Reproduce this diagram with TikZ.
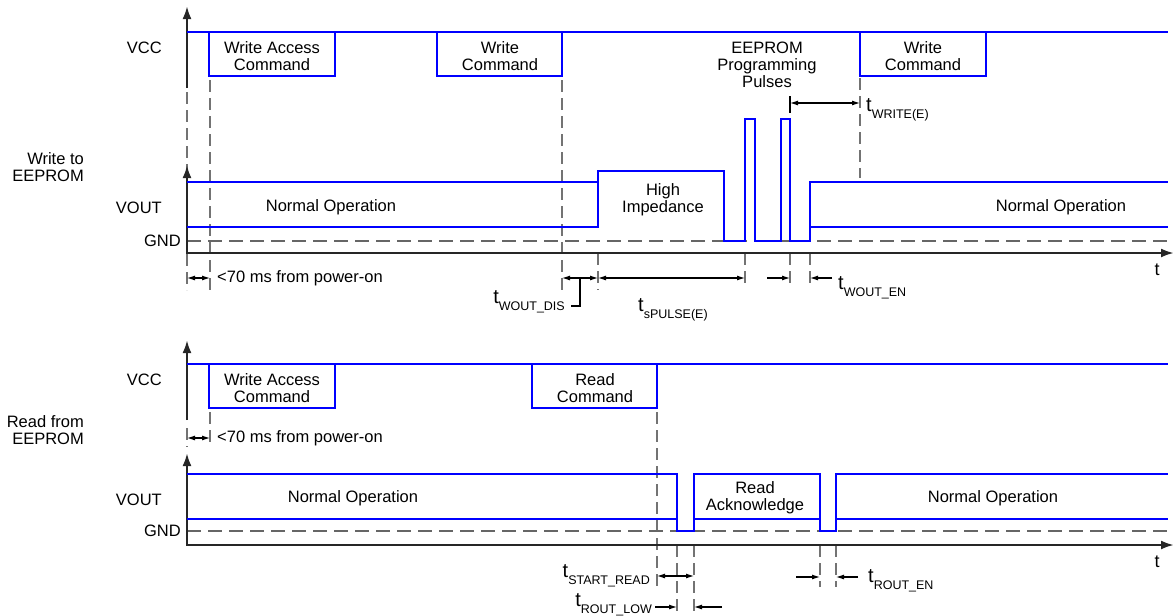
\documentclass[tikz,border=0pt]{standalone}
\usepackage{fontspec}
\setmainfont{Liberation Sans}
\usetikzlibrary{arrows.meta}
\newcommand{\tlab}[1]{{\fontsize{20}{22}\selectfont t}\raisebox{-7pt}{\fontsize{12.5}{14}\selectfont #1}}

\begin{document}
\begin{tikzpicture}[x=1pt,y=-1pt,
    txt/.style={font=\fontsize{16.5}{17}\selectfont, inner sep=0pt, align=center},
    wave/.style={blue, line width=2.6pt},
    axis/.style={black!85, line width=2.4pt},
    uptip/.style={-{Latex[length=13pt,width=9pt]}},
    bothtip/.style={{Latex[length=13pt,width=9pt]}-{Latex[length=13pt,width=9pt]}},
    guide/.style={black!55, line width=1.2pt, dash pattern=on 12pt off 6pt},
    gnd/.style={black!60, line width=1.2pt, dash pattern=on 14pt off 7pt},
    dim/.style={line width=1.1pt, {Latex[length=8pt,width=5pt]}-{Latex[length=8pt,width=5pt]}},
    arr/.style={line width=1.1pt, -{Latex[length=8pt,width=5pt]}}]
    \useasboundingbox (0,0) rectangle (1176,616);

    % write to EEPROM
    \node[txt, align=right, anchor=east] (wrlbl) at (84,167) {Write to\\EEPROM};
    \node[txt, anchor=east] (vcc1) at (162,48) {VCC};
    \node[txt, anchor=east] (vout1) at (162,208) {VOUT};
    \node[txt, anchor=east] (gnd1) at (181,241) {GND};

    \draw[guide] (187,92) -- (187,290);
    \draw[guide] (210,80) -- (210,290);
    \draw[guide] (562,80) -- (562,290);
    \draw[guide] (860,78) -- (860,178);
    \draw[guide] (598,253) -- (598,290);
    \draw[guide] (745,253) -- (745,288);
    \draw[guide] (790,253) -- (790,288);
    \draw[guide] (810,253) -- (810,288);
    \draw[gnd] (187,241) -- (1168,241);

    \draw[axis, uptip] (187,88) -- (187,6);
    \draw[axis, bothtip] (187,165) -- (187,253) -- (1174,253);
    \node[txt, font=\fontsize{18}{20}\selectfont] (t1) at (1157,270) {t};

    \draw[wave] (187,32) -- (1168,32);
    \draw[wave] (209,32) rectangle (335,76);
    \draw[wave] (437,32) rectangle (562,76);
    \draw[wave] (860,32) rectangle (986,76);
    \draw[wave] (187,182) -- (598,182);
    \draw[wave] (187,227) -- (598,227) -- (598,171) -- (724,171) -- (724,241) -- (745,241)
        -- (745,119) -- (755,119) -- (755,241) -- (781,241) -- (781,119) -- (790,119)
        -- (790,241) -- (810,241) -- (810,182) -- (1168,182);
    \draw[wave] (810,227) -- (1168,227);

    \node[txt] (wac1) at (272,56) {Write Access\\Command};
    \node[txt] (wc1) at (500,56) {Write\\Command};
    \node[txt] (pulses) at (767,65) {EEPROM\\Programming\\Pulses};
    \node[txt] (wc2) at (923,56) {Write\\Command};
    \node[txt] (norm1) at (331,207) {Normal Operation};
    \node[txt] (hiz) at (663,200) {High\\Impedance};
    \node[txt] (norm2) at (1061,207) {Normal Operation};

    \draw[line width=1.1pt] (790,96) -- (790,113);
    \draw[dim] (790,103) -- (860,103);
    \node[inner sep=0pt, anchor=base west] (twrite) at (866,111) {\tlab{WRITE(E)}};

    \draw[dim] (187,278) -- (210,278);
    \node[txt, anchor=west] (pon1) at (217,278) {<70 ms from power-on};
    \draw[dim] (562,278) -- (598,278);
    \draw[line width=1.1pt] (580,278) -- (580,306) -- (571,306);
    \node[inner sep=0pt, anchor=base east] (tdis) at (565,303) {\tlab{WOUT\_DIS}};
    \draw[dim] (598,278) -- (745,278);
    \node[inner sep=0pt, anchor=base west] (tpulse) at (638,311) {\tlab{sPULSE(E)}};
    \draw[arr] (767,278) -- (790,278);
    \draw[arr] (832,278) -- (810,278);
    \node[inner sep=0pt, anchor=base west] (twen) at (838,289) {\tlab{WOUT\_EN}};

    % read from EEPROM
    \node[txt, align=right, anchor=east] (rdlbl) at (84,430) {Read from\\EEPROM};
    \node[txt, anchor=east] (vcc2) at (162,380) {VCC};
    \node[txt, anchor=east] (vout2) at (162,500) {VOUT};
    \node[txt, anchor=east] (gnd2) at (181,531) {GND};

    \draw[guide] (210,412) -- (210,447);
    \draw[guide] (187,428) -- (187,447);
    \draw[guide] (657,412) -- (657,587);
    \draw[guide] (677,545) -- (677,615);
    \draw[guide] (694,545) -- (694,615);
    \draw[guide] (820,545) -- (820,587);
    \draw[guide] (836,545) -- (836,587);
    \draw[gnd] (187,531) -- (1168,531);

    \draw[axis, uptip] (187,420) -- (187,340);
    \draw[axis, bothtip] (187,453) -- (187,545) -- (1174,545);
    \node[txt, font=\fontsize{18}{20}\selectfont] (t2) at (1157,562) {t};

    \draw[wave] (187,364) -- (1168,364);
    \draw[wave] (209,364) rectangle (335,408);
    \draw[wave] (532,364) rectangle (657,408);
    \draw[wave] (187,474) -- (677,474) -- (677,531) -- (694,531) -- (694,474) -- (820,474)
        -- (820,531) -- (836,531) -- (836,474) -- (1168,474);
    \draw[wave] (187,519) -- (677,519);
    \draw[wave] (694,519) -- (820,519);
    \draw[wave] (836,519) -- (1168,519);

    \node[txt] (wac2) at (272,388) {Write Access\\Command};
    \node[txt] (rc) at (595,388) {Read\\Command};
    \node[txt] (norm3) at (353,498) {Normal Operation};
    \node[txt] (rack) at (755,498) {Read\\Acknowledge};
    \node[txt] (norm4) at (993,498) {Normal Operation};

    \draw[dim] (187,438) -- (210,438);
    \node[txt, anchor=west] (pon2) at (217,438) {<70 ms from power-on};
    \draw[dim] (657,576) -- (694,576);
    \node[inner sep=0pt, anchor=base east] (tstart) at (650,577) {\tlab{START\_READ}};
    \draw[arr] (655,607) -- (677,607);
    \draw[arr] (722,607) -- (694,607);
    \node[inner sep=0pt, anchor=base east] (tlow) at (652,606) {\tlab{ROUT\_LOW}};
    \draw[arr] (796,577) -- (820,577);
    \draw[arr] (858,577) -- (836,577);
    \node[inner sep=0pt, anchor=base west] (tren) at (868,582) {\tlab{ROUT\_EN}};
\end{tikzpicture}
\end{document}
